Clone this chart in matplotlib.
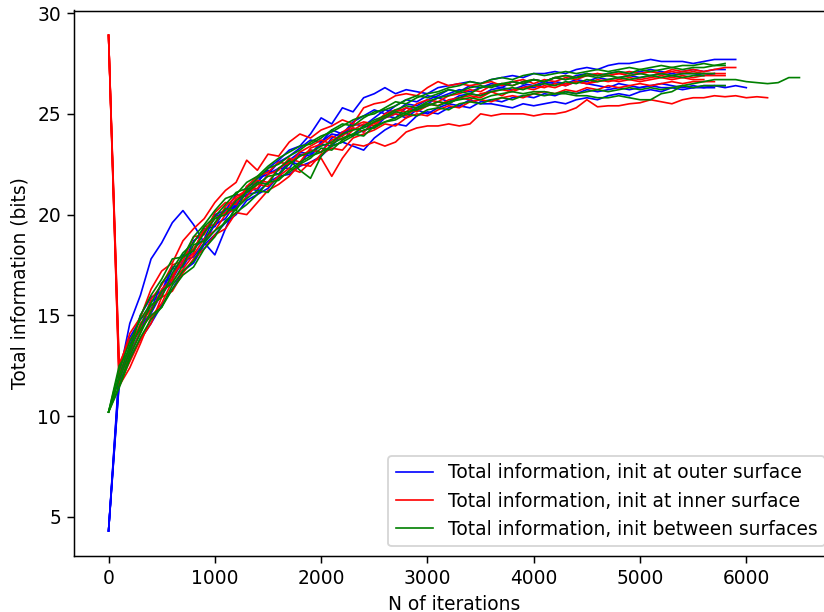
import numpy as np
import matplotlib
matplotlib.use("Agg")
import matplotlib.pyplot as plt

# iterations are logged every STEP steps
STEP = 100

# runs initialised at the outer surface
outer_1 = [4.3, 12.0, 14.6, 16.0, 17.8, 18.6, 19.6, 20.2, 19.5, 18.6, 18.0, 19.3, 20.5, 21.2, 21.6, 22.3,
           22.7, 23.2, 23.4, 24.0, 24.8, 24.5, 25.3, 25.1, 25.8, 26.0, 26.3, 26.0, 26.2, 26.1, 26.0, 26.3,
           26.4, 26.5, 26.6, 26.5, 26.7, 26.8, 26.9, 26.8, 27.0, 27.0, 27.1, 27.0, 27.2, 27.3, 27.2, 27.4,
           27.5, 27.5, 27.6, 27.7, 27.6, 27.6, 27.6, 27.5, 27.6, 27.7, 27.7, 27.7]
outer_2 = [4.3, 11.6, 12.9, 13.8, 14.6, 15.5, 16.3, 17.2, 17.6, 18.5, 19.0, 19.6, 20.0, 20.7, 21.0, 21.3,
           21.9, 22.0, 22.4, 22.6, 22.9, 23.4, 23.6, 23.4, 23.2, 23.8, 24.2, 24.5, 24.4, 24.9, 25.1, 25.0,
           25.3, 25.4, 25.3, 25.6, 25.7, 25.6, 25.8, 25.9, 25.8, 26.0, 25.9, 26.1, 26.0, 26.2, 26.1, 26.2,
           26.3, 26.2, 26.3, 26.4, 26.3, 26.3, 26.4, 26.3, 26.4, 26.4, 26.4]
outer_3 = [4.3, 12.3, 13.9, 14.8, 15.3, 16.6, 16.9, 18.0, 18.2, 19.3, 19.4, 20.3, 20.4, 21.3, 21.2, 22.0,
           22.3, 22.3, 23.0, 22.9, 23.5, 23.4, 24.0, 24.3, 24.1, 24.6, 24.9, 24.8, 25.3, 25.2, 25.5, 25.8,
           25.6, 25.9, 26.0, 25.9, 26.2, 26.3, 26.2, 26.4, 26.3, 26.5, 26.6, 26.5, 26.7, 26.6, 26.8, 26.7,
           26.8, 26.9, 26.8, 26.9, 27.0, 26.9, 27.0, 27.0, 26.9, 27.0]
outer_4 = [4.3, 11.8, 13.5, 15.0, 15.9, 16.2, 17.4, 17.5, 18.7, 19.1, 20.0, 20.2, 21.0, 20.9, 21.8, 22.0,
           22.6, 22.9, 23.3, 23.7, 23.6, 24.2, 24.0, 24.6, 24.9, 25.2, 25.0, 25.4, 25.7, 25.6, 25.9, 25.8,
           26.0, 26.2, 26.1, 26.3, 26.4, 26.3, 26.6, 26.5, 26.7, 26.6, 26.8, 26.7, 26.9, 27.0, 26.9, 27.0,
           27.1, 27.0, 27.1, 27.2, 27.1, 27.0, 27.1, 27.2, 27.1, 27.2, 27.2]
outer_5 = [4.3, 12.1, 13.1, 14.2, 15.7, 16.0, 16.8, 17.7, 17.9, 18.6, 19.5, 19.8, 20.6, 21.0, 21.1, 21.6,
           21.9, 22.6, 22.5, 23.2, 23.1, 23.8, 24.1, 23.9, 24.4, 24.3, 24.8, 25.0, 24.8, 25.2, 25.0, 25.3,
           25.5, 25.4, 25.7, 25.5, 25.5, 25.4, 25.3, 25.5, 25.4, 25.5, 25.6, 25.5, 25.7, 25.8, 25.7, 25.9,
           26.0, 25.9, 26.1, 26.2, 26.1, 26.3, 26.2, 26.3, 26.3, 26.3]
outer_6 = [4.3, 11.7, 13.4, 14.5, 15.1, 16.1, 17.3, 17.4, 18.3, 18.8, 19.9, 20.1, 20.4, 21.4, 21.6, 22.2,
           22.0, 22.7, 23.1, 23.0, 23.6, 24.0, 23.9, 24.5, 24.4, 24.8, 25.2, 25.1, 25.5, 25.4, 25.7, 25.9,
           26.2, 26.1, 26.4, 26.3, 26.5, 26.4, 26.6, 26.5, 26.4, 26.6, 26.5, 26.4, 26.6, 26.5, 26.4, 26.3,
           26.5, 26.4, 26.3, 26.4, 26.5, 26.4, 26.3, 26.4, 26.3, 26.4, 26.3, 26.4, 26.3]

# runs initialised at the inner surface
inner_1 = [28.9, 11.5, 12.4, 13.6, 14.9, 15.6, 16.7, 17.3, 18.0, 18.8, 19.2, 20.0, 20.3, 20.9, 21.5, 21.4,
           21.9, 22.3, 22.1, 22.6, 22.8, 21.9, 22.8, 23.5, 23.4, 23.6, 23.4, 23.6, 24.1, 24.3, 24.4, 24.4,
           24.5, 24.4, 24.5, 25.0, 24.9, 25.0, 25.0, 25.0, 24.9, 25.0, 25.0, 25.1, 25.3, 25.7, 25.35, 25.4,
           25.4, 25.5, 25.55, 25.7, 25.6, 25.5, 25.7, 25.8, 25.8, 25.9, 25.85, 25.9, 25.8, 25.85, 25.8]
inner_2 = [28.9, 12.4, 14.1, 14.9, 16.3, 17.2, 17.6, 18.7, 19.3, 19.8, 20.6, 21.2, 21.6, 22.7, 22.2, 23.0,
           22.9, 23.6, 24.0, 23.8, 24.2, 24.4, 24.7, 24.5, 25.3, 25.5, 25.6, 25.9, 26.0, 25.9, 26.3, 26.6,
           26.4, 26.5, 26.4, 26.5, 26.6, 26.4, 26.6, 26.7, 26.5, 26.7, 26.6, 26.8, 26.7, 26.9, 27.0, 26.9,
           27.0, 27.1, 27.0, 27.1, 27.0, 27.2, 27.1, 27.2, 27.1, 27.2, 27.3, 27.3]
inner_3 = [28.9, 11.9, 13.0, 14.2, 15.2, 16.3, 16.8, 17.9, 18.3, 19.2, 19.8, 20.1, 20.8, 21.1, 21.7, 21.6,
           22.3, 22.6, 22.9, 23.2, 23.1, 23.7, 23.9, 24.3, 24.1, 24.6, 24.8, 25.0, 24.9, 25.3, 25.5, 25.4,
           25.7, 25.8, 25.7, 26.0, 26.1, 25.9, 26.2, 26.3, 26.2, 26.4, 26.3, 26.5, 26.6, 26.5, 26.7, 26.6,
           26.7, 26.8, 26.7, 26.8, 26.9, 26.8, 26.9, 26.8, 26.9, 26.9, 26.9]
inner_4 = [28.9, 11.6, 12.7, 13.8, 14.6, 15.9, 16.2, 17.1, 17.8, 18.3, 19.0, 19.3, 20.1, 20.0, 20.6, 21.2,
           21.5, 21.9, 22.5, 22.4, 23.0, 23.3, 23.2, 23.8, 24.0, 24.2, 24.5, 24.4, 24.8, 25.0, 24.9, 25.2,
           25.4, 25.3, 25.6, 25.7, 25.6, 25.8, 25.9, 25.8, 26.0, 26.1, 26.0, 26.2, 26.1, 26.3, 26.2, 26.4,
           26.3, 26.4, 26.5, 26.4, 26.5, 26.6, 26.5, 26.6, 26.6, 26.6]
inner_5 = [28.9, 12.6, 13.8, 14.4, 15.8, 16.5, 17.5, 17.7, 18.9, 19.0, 20.1, 20.6, 20.5, 21.4, 21.9, 22.1,
           22.6, 22.5, 23.1, 23.4, 23.7, 23.5, 24.1, 24.4, 24.6, 24.5, 25.0, 25.2, 25.1, 25.5, 25.7, 25.6,
           25.9, 26.0, 26.2, 26.1, 26.4, 26.5, 26.4, 26.6, 26.7, 26.6, 26.8, 26.9, 26.8, 26.9, 27.0, 26.9,
           27.0, 26.9, 27.0, 27.1, 27.0, 27.1, 27.0, 27.1, 27.0, 27.0, 27.0]
inner_6 = [28.9, 12.1, 13.4, 14.6, 15.3, 16.0, 17.0, 17.6, 18.1, 19.4, 19.5, 20.4, 20.9, 21.2, 21.3, 22.0,
           22.2, 22.8, 22.6, 23.3, 23.5, 23.9, 23.7, 24.2, 24.5, 24.4, 24.9, 25.1, 25.3, 25.1, 25.4, 25.6,
           25.5, 25.8, 25.9, 25.8, 26.1, 26.2, 26.1, 26.3, 26.4, 26.3, 26.5, 26.4, 26.6, 26.5, 26.6, 26.7,
           26.6, 26.7, 26.6, 26.7, 26.8, 26.7, 26.8, 26.7, 26.7]

# runs initialised between the surfaces
between_1 = [10.2, 11.8, 13.2, 14.5, 15.5, 15.9, 17.1, 17.9, 18.2, 19.1, 19.8, 20.0, 20.7, 21.1, 21.5, 21.9,
             22.0, 22.5, 22.9, 23.1, 23.4, 23.6, 24.0, 24.2, 24.3, 24.6, 24.8, 25.1, 25.0, 25.3, 25.5, 25.4,
             25.6, 25.7, 25.8, 25.7, 25.9, 26.0, 26.1, 26.0, 26.1, 26.1, 26.0, 26.0, 25.9, 25.9, 25.8, 25.8,
             25.9, 25.8, 25.7, 25.7, 26.0, 26.1, 26.4, 26.5, 26.6, 26.7, 26.7, 26.7, 26.6, 26.55, 26.5, 26.55,
             26.8, 26.8]
between_2 = [10.2, 12.3, 13.7, 14.8, 15.6, 16.6, 17.3, 18.1, 18.6, 19.4, 19.9, 20.5, 21.1, 21.3, 21.8, 22.3,
             22.5, 22.9, 23.2, 23.6, 23.9, 24.1, 24.4, 24.7, 24.9, 25.0, 25.3, 25.6, 25.5, 25.8, 26.0, 26.1,
             26.3, 26.4, 26.6, 26.5, 26.7, 26.8, 26.7, 26.9, 27.0, 26.9, 27.0, 27.1, 27.0, 27.1, 27.2, 27.1,
             27.2, 27.3, 27.2, 27.3, 27.4, 27.3, 27.4, 27.4, 27.5, 27.4, 27.5]
between_3 = [10.2, 11.5, 13.0, 14.1, 15.2, 16.2, 16.6, 17.5, 18.5, 18.7, 19.6, 20.3, 20.2, 21.2, 21.6, 21.5,
             22.3, 22.7, 22.2, 21.8, 22.9, 23.5, 23.8, 24.0, 24.4, 24.7, 24.9, 25.2, 25.4, 25.3, 25.6, 25.8,
             25.9, 26.1, 26.0, 26.3, 26.4, 26.5, 26.4, 26.6, 26.7, 26.6, 26.8, 26.9, 26.8, 27.0, 26.9, 27.0,
             27.1, 27.0, 27.2, 27.1, 27.2, 27.3, 27.2, 27.3, 27.3, 27.4, 27.4]
between_4 = [10.2, 12.0, 13.5, 14.3, 15.0, 15.4, 16.5, 17.2, 17.7, 18.6, 19.2, 19.6, 20.3, 20.8, 21.2, 21.1,
             21.8, 22.1, 22.5, 22.8, 23.3, 23.2, 23.7, 24.0, 23.9, 24.4, 24.6, 24.7, 25.0, 24.9, 25.2, 25.3,
             25.2, 25.5, 25.6, 25.5, 25.7, 25.8, 25.7, 25.9, 26.0, 25.9, 26.0, 26.1, 26.0, 26.1, 26.2, 26.1,
             26.2, 26.3, 26.2, 26.3, 26.2, 26.3, 26.4, 26.3, 26.4, 26.4, 26.4]
between_5 = [10.2, 12.5, 13.3, 15.0, 16.0, 16.8, 17.8, 17.9, 18.9, 19.5, 20.2, 20.8, 21.0, 21.6, 21.9, 22.4,
             22.8, 23.1, 23.4, 23.5, 23.8, 24.2, 24.5, 24.4, 24.8, 25.1, 25.2, 25.4, 25.7, 25.9, 25.8, 26.0,
             26.2, 26.1, 26.3, 26.4, 26.3, 26.5, 26.6, 26.5, 26.7, 26.6, 26.8, 26.7, 26.8, 26.9, 26.8, 26.9,
             26.8, 26.9, 27.0, 26.9, 27.0, 26.9, 27.0, 27.0, 27.0, 27.0]
between_6 = [10.2, 11.4, 12.8, 13.9, 14.8, 15.4, 16.3, 17.0, 17.4, 18.3, 18.9, 19.7, 20.1, 20.5, 21.0, 21.6,
             21.7, 22.2, 22.6, 22.9, 23.1, 23.4, 23.6, 23.9, 24.2, 24.3, 24.6, 24.8, 25.1, 25.2, 25.4, 25.6,
             25.5, 25.8, 26.0, 25.9, 26.1, 26.2, 26.3, 26.2, 26.4, 26.5, 26.4, 26.6, 26.5, 26.7, 26.6, 26.7,
             26.8, 26.7, 26.8, 26.9, 26.8, 26.9, 26.8, 26.9, 26.9]

groups = [
    ([outer_1, outer_2, outer_3, outer_4, outer_5, outer_6], "blue",
     "Total information, init at outer surface"),
    ([inner_1, inner_2, inner_3, inner_4, inner_5, inner_6], "red",
     "Total information, init at inner surface"),
    ([between_1, between_2, between_3, between_4, between_5, between_6], "green",
     "Total information, init between surfaces"),
]


def main():
    dpi = 134
    fig = plt.figure(figsize=(824 / dpi, 612 / dpi), dpi=dpi)
    # the original figure is cropped on the right, so the axes run past the edge
    ax = fig.add_axes([74 / 824, 56.3 / 612, 760 / 824, 545.2 / 612])
    for runs, color, label in groups:
        for i, run in enumerate(runs):
            x = np.arange(len(run)) * STEP
            ax.plot(x, run, color=color, lw=0.9, label=label if i == 0 else None)
    ax.set_xlabel("N of iterations")
    ax.set_ylabel("Total information (bits)")
    ax.legend(loc="lower right")
    fig.savefig("out.png", dpi=dpi)


if __name__ == "__main__":
    main()
